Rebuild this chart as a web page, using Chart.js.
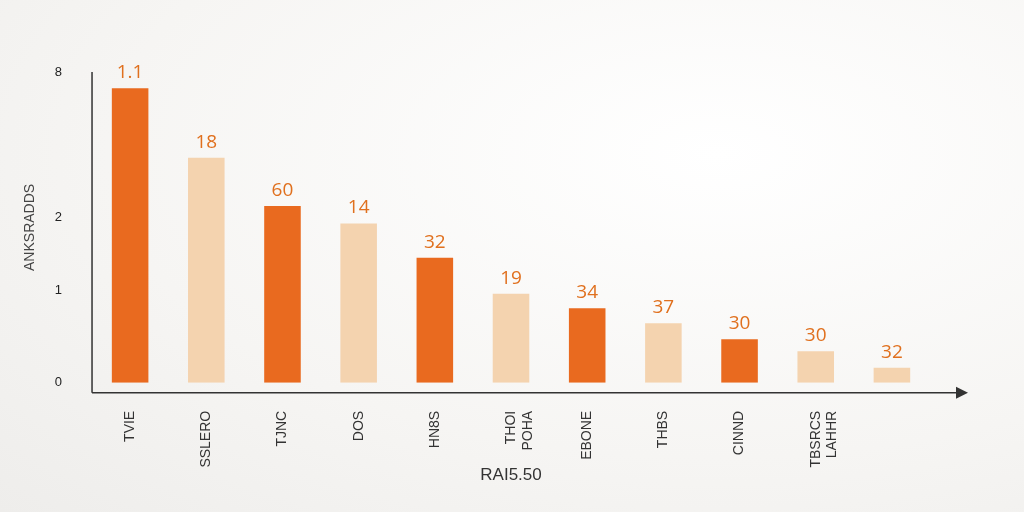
<!DOCTYPE html>
<html>
<head>
<meta charset="utf-8">
<script src="https://cdn.jsdelivr.net/npm/chart.js@4"></script>
<style>
  html, body { margin: 0; padding: 0; }
  body { width: 1024px; height: 512px; background: radial-gradient(ellipse at 70% 30%, #ffffff 0%, #f6f5f3 60%, #eeedeb 100%); }
  #wrap { width: 1024px; height: 512px; }
</style>
</head>
<body>
<div id="wrap"><canvas id="chart"></canvas></div>
<script>
const categories = ['TVIE', 'SSLERO', 'TJNC', 'DOS', 'HN8S', ['THOI', 'POHA'], 'EBONE', 'THBS', 'CINND', ['TBSRCS', 'LAHHR'], ''];
const values = [7.58, 5.79, 4.55, 4.10, 3.22, 2.29, 1.92, 1.53, 1.12, 0.81, 0.39];
const valueLabels = ['1.1', '18', '60', '14', '32', '19', '34', '37', '30', '30', '32'];
const barColors = ['#E96A1F', '#F4D3AF', '#E96A1F', '#F4D3AF', '#E96A1F', '#F4D3AF', '#E96A1F', '#F4D3AF', '#E96A1F', '#F4D3AF', '#F4D3AF'];
const tickValues = [0, 2.39, 4.26, 8];
const tickLabels = ['0', '1', '2', '8'];

// labels above bars
const valueLabelPlugin = {
  id: 'valueLabels',
  afterDatasetsDraw(chart) {
    const ctx = chart.ctx;
    const meta = chart.getDatasetMeta(0);
    ctx.save();
    ctx.fillStyle = '#E0701E';
    ctx.font = '19px "Open Sans", sans-serif';
    ctx.textAlign = 'center';
    ctx.textBaseline = 'bottom';
    meta.data.forEach((bar, i) => {
      ctx.fillText(valueLabels[i], bar.x, bar.y - 6);
    });
    // arrow at end of x axis
    const y = chart.scales.y.getPixelForValue(0) + 10;
    const xr = chart.chartArea.right + 30;
    ctx.fillStyle = '#333';
    ctx.beginPath();
    ctx.moveTo(xr + 8, y);
    ctx.lineTo(xr - 4, y - 6);
    ctx.lineTo(xr - 4, y + 6);
    ctx.fill();
    ctx.strokeStyle = '#333';
    ctx.lineWidth = 1.5;
    ctx.beginPath();
    ctx.moveTo(chart.chartArea.left, y);
    ctx.lineTo(xr, y);
    ctx.moveTo(chart.chartArea.left, y);
    ctx.lineTo(chart.chartArea.left, chart.chartArea.top);
    ctx.stroke();
    ctx.restore();
  }
};

new Chart(document.getElementById('chart').getContext('2d'), {
  type: 'bar',
  data: {
    labels: categories,
    datasets: [{
      data: values,
      backgroundColor: barColors,
      borderWidth: 0,
      barPercentage: 0.48,
      categoryPercentage: 1
    }]
  },
  options: {
    responsive: true,
    maintainAspectRatio: false,
    animation: false,
    layout: { padding: { top: 72, right: 94, left: 18, bottom: 22 } },
    plugins: { legend: { display: false }, tooltip: { enabled: false } },
    scales: {
      x: {
        grid: { display: false },
        border: { display: false },
        ticks: { color: '#333', font: { size: 14, family: 'Liberation Sans' }, maxRotation: 90, minRotation: 90, padding: 20 },
        title: { display: true, text: 'RAI5.50', color: '#333', font: { size: 17, family: 'Liberation Sans Narrow, Liberation Sans' }, padding: { top: -22 } }
      },
      y: {
        min: 0, max: 8,
        grid: { display: false },
        border: { display: false },
        afterBuildTicks: (axis) => { axis.ticks = tickValues.map(v => ({ value: v })); },
        ticks: {
          color: '#222', font: { size: 13, family: 'Liberation Sans' }, padding: 22,
          callback: (v) => tickLabels[tickValues.indexOf(v)]
        },
        title: { display: true, text: 'ANKSRADDS', color: '#444', font: { size: 14, family: 'Liberation Sans' }, padding: { bottom: -6 } }
      }
    }
  },
  plugins: [valueLabelPlugin]
});
</script>
</body>
</html>
